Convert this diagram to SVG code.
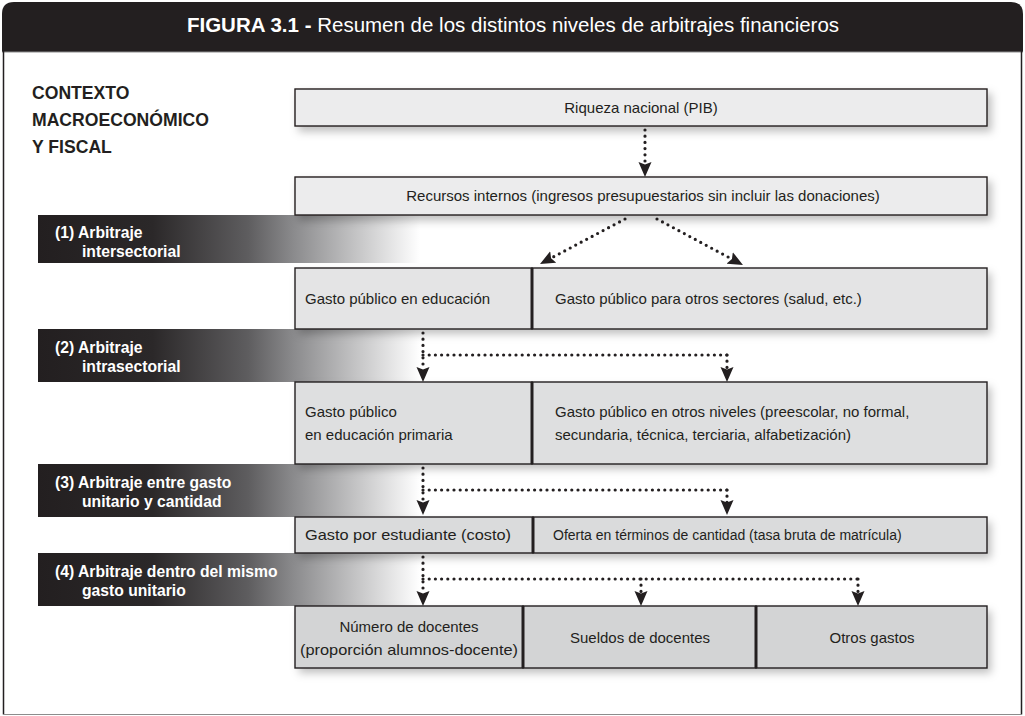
<svg xmlns="http://www.w3.org/2000/svg" width="1025" height="716" viewBox="0 0 1025 716">
<defs>
<style>
text{font-family:"Liberation Sans",Arial,sans-serif;fill:#231f20}
.hd{fill:#fff;font-size:20.5px}
.ctx{font-size:17.6px;font-weight:bold}
.band{fill:#fff;font-size:15.7px;font-weight:bold}
.t{font-size:15px}
.t14{font-size:14px}
.box{stroke:#231f20;stroke-width:1.4}
.div{stroke:#231f20;stroke-width:3}
.dot{fill:none;stroke:#231f20;stroke-width:3.2;stroke-linecap:round;stroke-dasharray:0 6.2}
.arr{marker-end:url(#ah)}
</style>
<linearGradient id="bandg" gradientUnits="userSpaceOnUse" x1="38" y1="0" x2="420" y2="0">
<stop offset="0" stop-color="#231f20"/>
<stop offset="0.3" stop-color="#2b2829"/>
<stop offset="0.55" stop-color="#5e5d5f"/>
<stop offset="0.67" stop-color="#8b8b8d"/>
<stop offset="0.85" stop-color="#cacacb"/>
<stop offset="1" stop-color="#ffffff"/>
</linearGradient>
<filter id="sh" x="-5%" y="-30%" width="115%" height="180%">
<feDropShadow dx="4" dy="5" stdDeviation="4" flood-color="#000" flood-opacity="0.25"/>
</filter>
<marker id="ah" markerUnits="userSpaceOnUse" viewBox="0 -7 16 14" markerWidth="16" markerHeight="14" refX="3" refY="0" orient="auto">
<path d="M15,0 L0,-6.5 L2.5,0 L0,6.5 Z" fill="#231f20"/>
</marker>
</defs>
<rect width="1025" height="716" fill="#fff"/>
<g id="frame">
<path d="M2,52 V14 Q2,2 14,2 H1011 Q1023,2 1023,14 V52 Z" fill="#231f20"/>
<line x1="2" y1="52" x2="1023" y2="52" stroke="#8c8c8c" stroke-width="1"/>
<line x1="3.5" y1="50" x2="3.5" y2="714.5" stroke="#231f20" stroke-width="1.5"/>
<line x1="1021.5" y1="50" x2="1021.5" y2="714.5" stroke="#231f20" stroke-width="1.5"/>
<line x1="3" y1="714.5" x2="1022" y2="714.5" stroke="#8c8c8c" stroke-width="1.2"/>
<text class="hd" x="513" y="32" text-anchor="middle"><tspan font-weight="bold">FIGURA 3.1 -</tspan> Resumen de los distintos niveles de arbitrajes financieros</text>
</g>
<g id="contexto">
<text class="ctx" x="32" y="99">CONTEXTO</text>
<text class="ctx" x="32" y="126">MACROECONÓMICO</text>
<text class="ctx" x="32" y="153">Y FISCAL</text>
</g>
<g id="bands">
<g id="band1"><rect x="38" y="215" width="382" height="48" fill="url(#bandg)"/>
<text class="band" x="55" y="238">(1) Arbitraje</text><text class="band" x="82" y="257">intersectorial</text></g>
<g id="band2"><rect x="38" y="329" width="382" height="53" fill="url(#bandg)"/>
<text class="band" x="55" y="353">(2) Arbitraje</text><text class="band" x="82" y="372">intrasectorial</text></g>
<g id="band3"><rect x="38" y="464" width="382" height="53" fill="url(#bandg)"/>
<text class="band" x="55" y="488">(3) Arbitraje entre gasto</text><text class="band" x="82" y="507">unitario y cantidad</text></g>
<g id="band4"><rect x="38" y="553" width="382" height="53" fill="url(#bandg)"/>
<text class="band" x="55" y="577">(4) Arbitraje dentro del mismo</text><text class="band" x="82" y="596">gasto unitario</text></g>
</g>
<g id="riqueza">
<rect class="box" x="295" y="89" width="692" height="37" fill="#ececed" filter="url(#sh)"/>
<text class="t" x="641" y="112.5" text-anchor="middle">Riqueza nacional (PIB)</text>
</g>
<g id="recursos">
<rect class="box" x="295" y="177" width="692" height="38" fill="#ececed" filter="url(#sh)"/>
<text class="t" x="643" y="201" text-anchor="middle">Recursos internos (ingresos presupuestarios sin incluir las donaciones)</text>
</g>
<g id="row-sectores">
<rect x="295" y="268" width="692" height="61" fill="#e4e4e5" filter="url(#sh)"/>
<g id="gasto-educacion"><rect class="box" x="295" y="268" width="237" height="61" fill="#e4e4e5"/>
<text class="t" x="305" y="304">Gasto público en educación</text></g>
<g id="gasto-otros-sectores"><rect class="box" x="532" y="268" width="455" height="61" fill="#e4e4e5"/>
<text class="t" x="555" y="304">Gasto público para otros sectores (salud, etc.)</text></g>
<line class="div" x1="532" y1="268" x2="532" y2="329"/>
</g>
<g id="row-niveles">
<rect x="295" y="382" width="692" height="82" fill="#dedfe0" filter="url(#sh)"/>
<g id="gasto-primaria"><rect class="box" x="295" y="382" width="237" height="82" fill="#dedfe0"/>
<text class="t" x="305" y="417">Gasto público</text><text class="t" x="305" y="440">en educación primaria</text></g>
<g id="gasto-otros-niveles"><rect class="box" x="532" y="382" width="455" height="82" fill="#dedfe0"/>
<text class="t" x="555" y="417">Gasto público en otros niveles (preescolar, no formal,</text><text class="t" x="555" y="440">secundaria, técnica, terciaria, alfabetización)</text></g>
<line class="div" x1="532" y1="382" x2="532" y2="464"/>
</g>
<g id="row-unitario">
<rect x="295" y="517" width="692" height="36" fill="#dadbdc" filter="url(#sh)"/>
<g id="gasto-estudiante"><rect class="box" x="295" y="517" width="238" height="36" fill="#dadbdc"/>
<text class="t" x="305" y="540" font-size="15.5" textLength="206" lengthAdjust="spacingAndGlyphs">Gasto por estudiante (costo)</text></g>
<g id="oferta"><rect class="box" x="533" y="517" width="454" height="36" fill="#dadbdc"/>
<text class="t14" x="553" y="540">Oferta en términos de cantidad (tasa bruta de matrícula)</text></g>
<line class="div" x1="533" y1="517" x2="533" y2="553"/>
</g>
<g id="row-componentes">
<rect x="295" y="606" width="692" height="62" fill="#d3d4d5" filter="url(#sh)"/>
<g id="numero-docentes"><rect class="box" x="295" y="606" width="228" height="62" fill="#d3d4d5"/>
<text class="t" x="409" y="632" text-anchor="middle">Número de docentes</text><text class="t" x="409" y="655" text-anchor="middle" font-size="15.5" textLength="218" lengthAdjust="spacingAndGlyphs">(proporción alumnos-docente)</text></g>
<g id="sueldos"><rect class="box" x="523" y="606" width="233" height="62" fill="#d3d4d5"/>
<text class="t" x="640" y="643" text-anchor="middle">Sueldos de docentes</text></g>
<g id="otros-gastos"><rect class="box" x="756" y="606" width="231" height="62" fill="#d3d4d5"/>
<text class="t" x="872" y="643" text-anchor="middle">Otros gastos</text></g>
<line class="div" x1="523" y1="606" x2="523" y2="668"/>
<line class="div" x1="756" y1="606" x2="756" y2="668"/>
</g>
<g id="connectors">
<path class="dot arr" d="M645,130 L645,165"/>
<path class="dot arr" d="M625,219 L550.6,258.4"/>
<path class="dot arr" d="M657,219 L732.4,259.3"/>
<path class="dot arr" d="M423,333 L423,370"/>
<path class="dot" d="M423,355 L727,355"/>
<path class="dot arr" d="M727,355 L727,370"/>
<path class="dot arr" d="M423,468 L423,503"/>
<path class="dot" d="M423,490 L727,490"/>
<path class="dot arr" d="M727,490 L727,503"/>
<path class="dot arr" d="M423,557 L423,594"/>
<path class="dot" d="M423,579 L858,579"/>
<path class="dot arr" d="M641,579 L641,594"/>
<path class="dot arr" d="M858,579 L858,594"/>
</g>
</svg>
